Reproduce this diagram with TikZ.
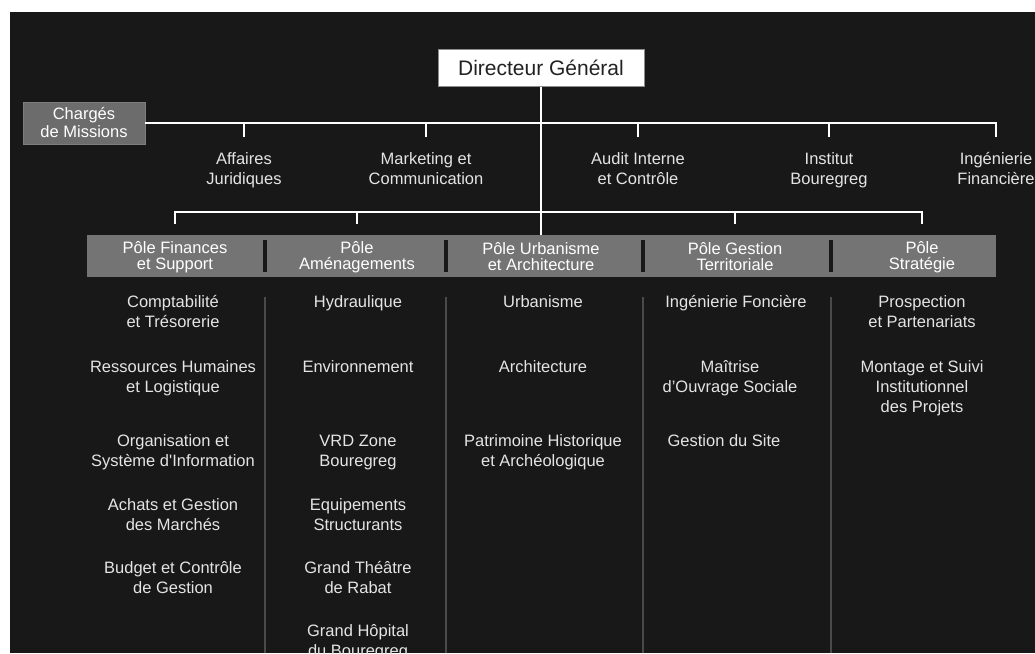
\documentclass[tikz,border=0pt]{standalone}
\usepackage{fontspec}
\setmainfont{Liberation Sans}
\usepackage{tikz}
\usetikzlibrary{positioning}
\usepackage{xcolor}
\definecolor{bgdark}{HTML}{181818}
\definecolor{bargray}{HTML}{747474}
\definecolor{boxgray}{HTML}{6C6C6C}
\definecolor{boxline}{HTML}{7E7E7E}
\definecolor{sepgray}{HTML}{4A4A4A}
\definecolor{txtgray}{HTML}{E4E4E4}
\definecolor{dgline}{HTML}{8C8C8C}
\definecolor{dgtext}{HTML}{222222}

\begin{document}
\begin{tikzpicture}[x=1pt, y=-1pt,
    every node/.style={font=\fontsize{16.5}{20}\selectfont, text=txtgray, align=center},
    dgbox/.style={draw=dgline, fill=white, text=dgtext, line width=1pt, minimum width=206pt, minimum height=37pt, inner sep=0pt, font=\fontsize{21}{25}\selectfont},
    graybox/.style={fill=boxgray, inner sep=0pt},
    pole/.style={text=white, inner sep=0pt, font=\fontsize{16.5}{16}\selectfont},
    unit/.style={anchor=north, inner sep=0pt, execute at begin node=\strut},
    conn/.style={draw=white, line width=2.5pt},
    sep/.style={draw=sepgray, line width=1.5pt},
    notch/.style={draw=bgdark, line width=3.5pt}
  ]
  \fill[white] (0,0) rectangle (1035,653);
  \fill[bgdark] (10,12) rectangle (1035,653);
  \useasboundingbox (0,0) rectangle (1035,653);

  % direction
  \node[dgbox] (dg) at (541,67.5) {Directeur Général};
  \node[graybox, draw=boxline, minimum width=122pt, minimum height=42pt, text=white, font=\fontsize{16.5}{18}\selectfont] (chm) at (84,123) {Chargés\\de Missions};

  % rattachés
  \node[unit] (aff)  at (244,152.5) {Affaires\\Juridiques};
  \node[unit] (mkt)  at (426,152.5) {Marketing et\\Communication};
  \node[unit] (aud)  at (638,152.5) {Audit Interne\\et Contrôle};
  \node[unit] (ins)  at (829,152.5) {Institut\\Bouregreg};
  \node[unit] (ingf) at (996,152.5) {Ingénierie\\Financière};

  \coordinate (tickend) at (0,137);
  \draw[conn] (chm.east) -| (ingf |- tickend);
  \foreach \n in {aff,mkt,aud,ins}
    \draw[conn] (\n |- chm.east) -- (\n |- tickend);

  % poles
  \node[graybox, fill=bargray, minimum width=909pt, minimum height=42pt] (bar) at (541.5,256) {};
  \node[pole] (pfin) at (175,257) {Pôle Finances\\et Support};
  \node[pole] (pame) at (357,257) {Pôle\\Aménagements};
  \node[pole] (purb) at (541,257) {Pôle Urbanisme\\et Architecture};
  \node[pole] (pges) at (735,257) {Pôle Gestion\\Territoriale};
  \node[pole] (pstr) at (922,257) {Pôle\\Stratégie};

  \coordinate (bus) at (0,212);
  \coordinate (stub) at (0,224);
  \draw[conn] (dg.south) -- (purb |- bar.north);
  \draw[conn] (pfin |- stub) |- (pstr |- bus) -- (pstr |- stub);
  \draw[conn] (pame |- bus) -- (pame |- stub);
  \draw[conn] (pges |- bus) -- (pges |- stub);

  \foreach \x in {265,446,643,831} {
    \draw[notch] (\x,240) -- (\x,272);
    \draw[sep] (\x,297) -- (\x,653);
  }

  % finances et support
  \node[unit] (f1) at (173,295.5) {Comptabilité\\et Trésorerie};
  \node[unit] (f2) at (173,360.5) {Ressources Humaines\\et Logistique};
  \node[unit] (f3) at (173,434.5) {Organisation et\\Système d\textquotesingle Information};
  \node[unit] (f4) at (173,498.5) {Achats et Gestion\\des Marchés};
  \node[unit] (f5) at (173,561.5) {Budget et Contrôle\\de Gestion};

  % amenagements
  \node[unit] (a1) at (358,293) {Hydraulique};
  \node[unit] (a2) at (358,358) {Environnement};
  \node[unit] (a3) at (358,434.5) {VRD Zone\\Bouregreg};
  \node[unit] (a4) at (358,498.5) {Equipements\\Structurants};
  \node[unit] (a5) at (358,561.5) {Grand Théâtre\\de Rabat};
  \node[unit] (a6) at (358,624.5) {Grand Hôpital\\du Bouregreg};

  % urbanisme et architecture
  \node[unit] (u1) at (543,293) {Urbanisme};
  \node[unit] (u2) at (543,358) {Architecture};
  \node[unit] (u3) at (543,434.5) {Patrimoine Historique\\et Archéologique};

  % gestion territoriale
  \node[unit] (g1) at (736,293) {Ingénierie Foncière};
  \node[unit] (g2) at (730,360.5) {Maîtrise\\d’Ouvrage Sociale};
  \node[unit] (g3) at (724,432) {Gestion du Site};

  % strategie
  \node[unit] (s1) at (922,295.5) {Prospection\\et Partenariats};
  \node[unit] (s2) at (922,360.5) {Montage et Suivi\\Institutionnel\\des Projets};
\end{tikzpicture}
\end{document}
